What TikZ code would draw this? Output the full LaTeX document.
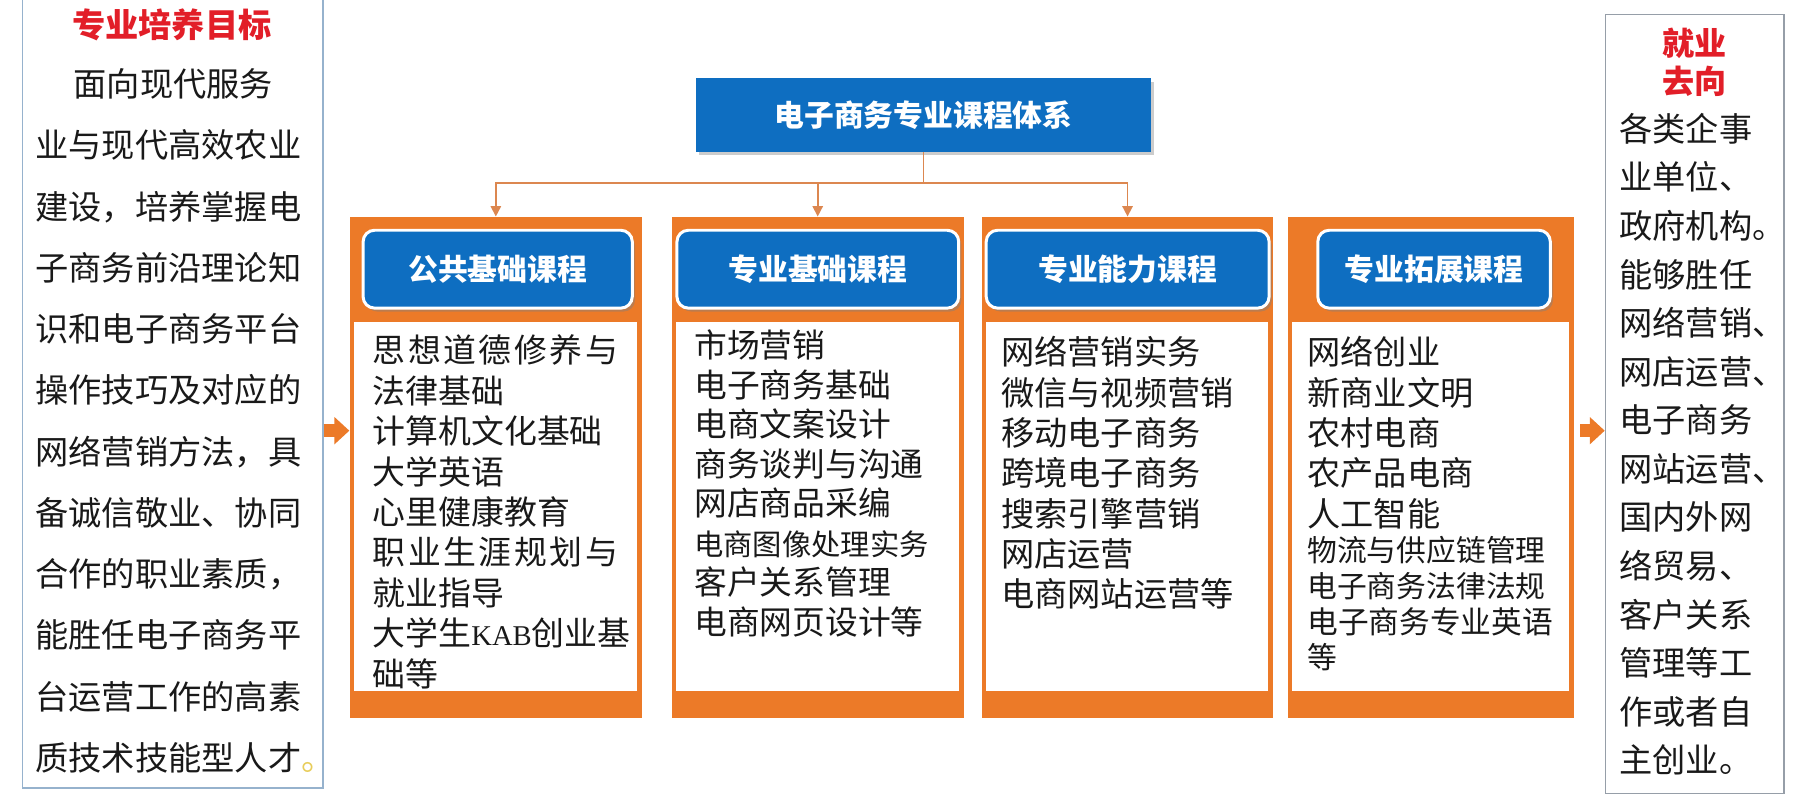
\documentclass[tikz,border=0pt]{standalone}
\usepackage{fontspec}
\newfontfamily\cjk{Noto Sans CJK SC}
\newfontfamily\latinserif{Liberation Serif}
\usetikzlibrary{arrows.meta,shadows,calc}
\definecolor{ablue}{RGB}{14,110,193}
\definecolor{aorange}{RGB}{236,122,40}
\definecolor{lineor}{RGB}{220,135,80}
\definecolor{ared}{RGB}{226,30,40}
\definecolor{ink}{RGB}{25,25,25}
\definecolor{goalbd}{RGB}{150,178,205}
\definecolor{jobbd}{RGB}{150,158,168}
\definecolor{dotyel}{RGB}{232,205,90}
\newcommand\lk{\kern1.1pt}
\begin{document}
\begin{tikzpicture}[x=0.5pt,y=-0.5pt,
  sidebox/.style={fill=white,line width=0.75pt,inner sep=0pt,anchor=north west},
  panelbox/.style={fill=aorange,draw=none,inner sep=0pt,anchor=north west,minimum height=218.5pt},
  hdr/.style={fill=ablue,draw=white,line width=1.3pt,rounded corners=5pt,text=white,
    font=\cjk\bfseries\fontsize{13}{15}\selectfont,minimum height=34pt,inner sep=0pt,
    drop shadow={shadow xshift=1.2pt,shadow yshift=-1.5pt,opacity=0.45}},
  topbox/.style={fill=ablue,draw=none,text=white,font=\cjk\bfseries\fontsize{13}{15}\selectfont,
    minimum width=198.75pt,minimum height=32pt,inner sep=0pt,
    drop shadow={shadow xshift=1.2pt,shadow yshift=-1.5pt,opacity=0.4}},
  txt/.style={inner sep=0pt,anchor=north west,align=left,text=ink},
  conn/.style={draw=lineor,line width=0.7pt},
  connarrow/.style={conn,-{Triangle[length=4.5pt,width=4.5pt]}},
  bigarrow/.style={draw=aorange,line width=5.5pt,-{Triangle[length=6.5pt,width=11.5pt]}}
]
\useasboundingbox (0,0) rectangle (1568,698);
\fill[white] (0,0) rectangle (1568,698);

% left goal box
\node[sidebox,draw=goalbd,minimum width=131pt,minimum height=346pt] (goal) at (19,-5) {};
\node[text=ared,font=\cjk\bfseries\fontsize{14.5}{16}\selectfont,inner sep=0pt] (goalhd) at (150,21.8) {专业培养目标};
\node[txt,font=\cjk\fontsize{14.5}{26.75}\selectfont] (goaltxt) at (30.6,59.4) {%
\hspace*{1.15em}面向现代服务\\
业与现代高效农业\\
建设，培养掌握电\\
子商务前沿理论知\\
识和电子商务平台\\
操作技巧及对应的\\
网络营销方法，具\\
备诚信敬业、协同\\
合作的职业素质，\\
能胜任电子商务平\\
台运营工作的高素\\
质技术技能型人才{\color{dotyel}。}};

% right job box
\node[sidebox,draw=jobbd,minimum width=78pt,minimum height=340pt] (job) at (1401,12) {};
\node[text=ared,font=\cjk\bfseries\fontsize{14}{16.75}\selectfont,align=center,inner sep=0pt] (jobhd) at (1479,54.5) {就业\\去向};
\node[txt,font=\cjk\fontsize{14.5}{21.2}\selectfont] (jobtxt) at (1413.5,98.4) {%
各类企事\\
业单位、\\
政府机构。\\
能够胜任\\
网络营销、\\
网店运营、\\
电子商务\\
网站运营、\\
国内外网\\
络贸易、\\
客户关系\\
管理等工\\
作或者自\\
主创业。};

% top box
\node[topbox] (top) at (806.25,100.4) {电子商务专业课程体系};

% panels
\node[panelbox,minimum width=127.5pt] (p1) at (305,189) {};
\node[panelbox,minimum width=127.5pt] (p2) at (586,189) {};
\node[panelbox,minimum width=127pt] (p3) at (857,189) {};
\node[panelbox,minimum width=125pt] (p4) at (1124,189) {};
\fill[white] (309,281) rectangle (556,603);
\fill[white] (590,281) rectangle (837,603);
\fill[white] (861,281) rectangle (1107,603);
\fill[white] (1128,281) rectangle (1370,603);

\node[hdr,minimum width=117.5pt] (h1) at (434.5,235) {公共基础课程};
\node[hdr,minimum width=123pt] (h2) at (714,235) {专业基础课程};
\node[hdr,minimum width=123.5pt] (h3) at (984.5,235) {专业能力课程};
\node[hdr,minimum width=101.5pt] (h4) at (1252,235) {专业拓展课程};

% panel texts
\node[txt,font=\cjk\fontsize{14.35}{17.65}\selectfont] (t1) at (325,292) {%
思\lk 想\lk 道\lk 德\lk 修\lk 养\lk 与\\
法律基础\\
计算机文化基础\\
大学英语\\
心里健康教育\\
职\lk 业\lk 生\lk 涯\lk 规\lk 划\lk 与\\
就业指导\\
大学生{\latinserif\fontsize{12.5}{17.65}\selectfont KAB}创业基\\
础等};
\node[txt,font=\cjk\fontsize{14.3}{17.25}\selectfont] (t2) at (605.7,287.5) {%
市场营销\\
电子商务基础\\
电商文案设计\\
商务谈判与沟通\\
网店商品采编\\
{\fontsize{12.8}{17.25}\selectfont 电商图像处理实务}\\
客户关系管理\\
电商网页设计等};
\node[txt,font=\cjk\fontsize{14.5}{17.6}\selectfont] (t3) at (873.8,293.4) {%
网络营销实务\\
微信与视频营销\\
移动电子商务\\
跨境电子商务\\
搜索引擎营销\\
网店运营\\
电商网站运营等};
\node[txt,font=\cjk\fontsize{14.5}{17.6}\selectfont] (t4a) at (1141,293.4) {%
网络创业\\
新商业文明\\
农村电商\\
农产品电商\\
人工智能};
\node[txt,font=\cjk\fontsize{13}{15.6}\selectfont] (t4b) at (1141,467.8) {%
物流与供应链管理\\
电子商务法律法规\\
{\fontsize{13.4}{15.6}\selectfont 电子商务专业英语}\\
等};

% connectors
\coordinate (hy) at (0,160);
\coordinate (hub) at (top.south |- hy);
\draw[conn] (top.south) -- (hub);
\draw[connarrow] (hub) -| (p1.north);
\draw[connarrow] (hub) -| (p2.north);
\draw[connarrow] (hub) -| (p3.north);

% block arrows
\coordinate (ay) at (0,376);
\draw[bigarrow] (goal.east |- ay) -- (p1.west |- ay);
\draw[bigarrow] ([xshift=2.5pt]p4.east |- ay) -- (job.west |- ay);
\end{tikzpicture}
\end{document}
